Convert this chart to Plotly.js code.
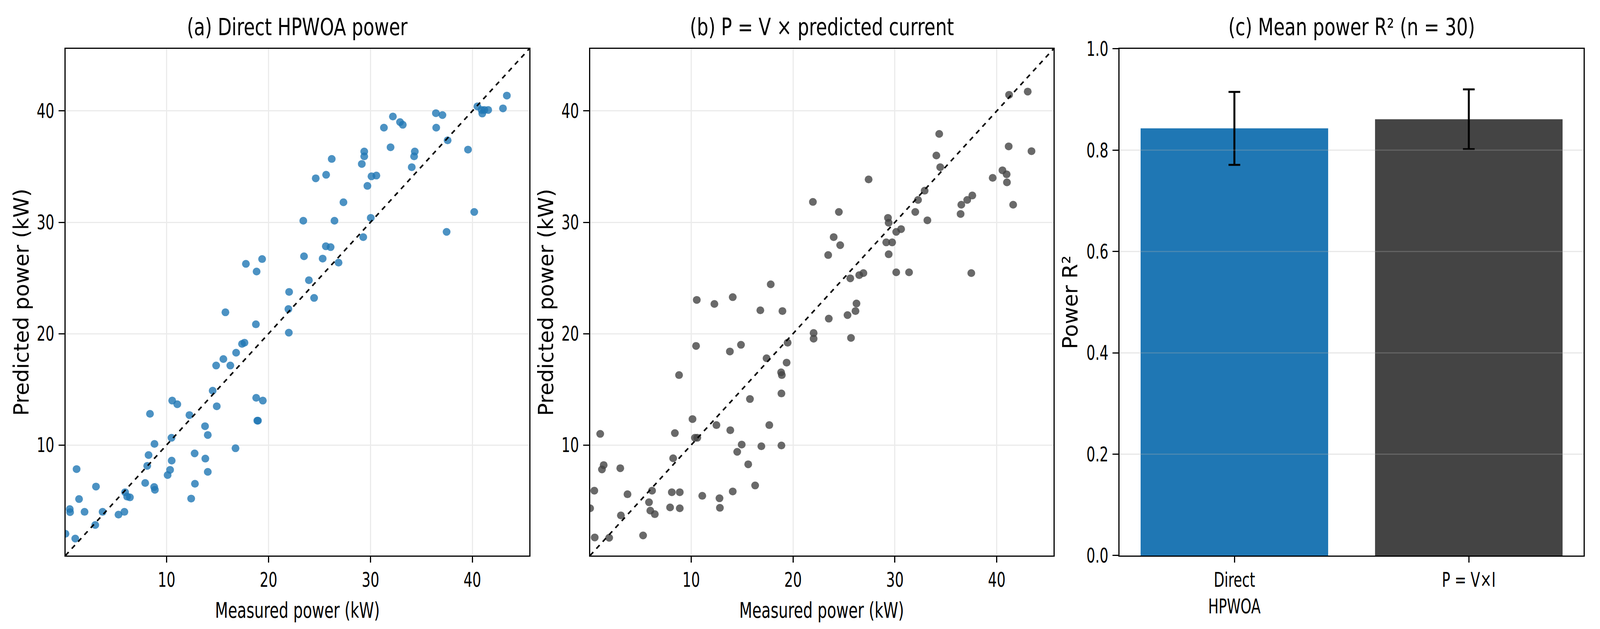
<!DOCTYPE html>
<html>
<head>
<meta charset="utf-8">
<script src="https://cdn.plot.ly/plotly-3.0.1.min.js"></script>
<style>
  html, body { margin: 0; padding: 0; background: #fff; overflow: hidden; }
  #chart { width: 100vw; height: 100vh; }
</style>
</head>
<body>
<div id="chart"></div>
<script>
// panel (a): measured vs direct HPWOA power
const measuredA = [0.08, 0.5, 0.53, 1.04, 1.17, 1.41, 1.95, 3.0, 3.07, 3.72,
  5.28, 5.86, 5.93, 6.13, 6.4, 7.9, 8.1, 8.23, 8.37, 8.78,
  8.81, 8.85, 10.1, 10.34, 10.48, 10.5, 10.55, 11.05, 12.24, 12.41,
  12.75, 12.78, 13.77, 13.8, 14.04, 14.04, 14.52, 14.86, 14.92, 15.57,
  15.77, 16.25, 16.76, 16.82, 17.4, 17.64, 17.78, 18.76, 18.79, 18.83,
  18.9, 18.96, 19.37, 19.44, 21.95, 21.99, 22.02, 23.41, 23.48, 23.96,
  24.47, 24.63, 25.31, 25.62, 25.65, 26.09, 26.2, 26.47, 26.87, 27.35,
  29.15, 29.29, 29.39, 29.39, 29.7, 30.03, 30.1, 30.58, 31.32, 31.97,
  32.2, 32.9, 33.17, 34.05, 34.28, 34.35, 36.42, 36.45, 37.06, 37.47,
  37.57, 39.57, 40.18, 40.49, 40.9, 40.97, 41.17, 41.55, 43.0, 43.38];
const predictedA = [2.03, 4.25, 3.97, 1.6, 7.84, 5.15, 4.0, 2.82, 6.27, 4.0,
  3.75, 4.0, 5.76, 5.37, 5.3, 6.59, 8.13, 9.1, 12.8, 6.23,
  10.1, 5.98, 7.3, 7.77, 10.65, 8.6, 13.99, 13.66, 12.69, 5.19,
  9.25, 6.52, 11.69, 8.78, 10.9, 7.59, 14.88, 17.14, 13.48, 17.72,
  21.92, 17.14, 9.71, 18.29, 19.08, 19.19, 26.27, 20.84, 14.24, 25.58,
  12.19, 12.19, 26.7, 13.99, 22.21, 20.09, 23.75, 30.14, 26.95, 24.8,
  23.21, 33.95, 26.74, 27.85, 34.27, 27.77, 35.69, 30.14, 26.38, 31.8,
  35.24, 28.67, 35.92, 36.36, 33.27, 30.4, 34.13, 34.2, 38.5, 36.74,
  39.5, 39.0, 38.76, 34.95, 35.92, 36.36, 39.8, 38.5, 39.63, 29.14,
  37.36, 36.53, 30.93, 40.41, 40.09, 39.77, 40.09, 40.09, 40.23, 41.38];

// panel (b): measured vs P = V x predicted current
const measuredB = [0.08, 0.49, 0.53, 1.07, 1.24, 1.41, 1.95, 3.04, 3.1, 3.75,
  5.28, 5.86, 5.99, 6.16, 6.43, 7.93, 8.1, 8.23, 8.4, 8.81,
  8.88, 8.88, 10.13, 10.37, 10.48, 10.55, 10.6, 11.09, 12.28, 12.48,
  12.78, 12.82, 13.8, 13.84, 14.08, 14.08, 14.52, 14.89, 14.96, 15.6,
  15.77, 16.28, 16.79, 16.89, 17.4, 17.67, 17.81, 18.83, 18.86, 18.86,
  18.9, 18.96, 19.37, 19.47, 22.02, 22.02, 21.95, 23.45, 23.51, 23.99,
  24.5, 24.63, 25.35, 25.62, 25.69, 26.13, 26.23, 26.5, 26.91, 27.42,
  29.15, 29.32, 29.39, 29.39, 29.73, 30.13, 30.13, 30.61, 31.39, 32.0,
  32.27, 32.92, 33.19, 34.07, 34.35, 34.45, 36.45, 36.52, 37.1, 37.5,
  37.6, 39.6, 40.56, 40.97, 41.0, 41.17, 41.21, 41.61, 43.04, 43.41];
const predictedB = [4.32, 5.9, 1.7, 11.0, 7.81, 8.2, 1.67, 7.92, 3.68, 5.58,
  1.88, 4.86, 4.11, 5.9, 3.79, 4.4, 5.76, 8.81, 11.07, 16.28,
  5.76, 4.32, 12.33, 10.65, 18.9, 23.03, 10.65, 5.44, 22.67, 11.79,
  5.22, 4.36, 18.4, 11.33, 23.28, 5.83, 9.39, 19.0, 10.04, 8.27,
  14.13, 6.37, 22.1, 9.89, 17.79, 11.79, 24.43, 16.53, 14.63, 9.96,
  16.28, 22.03, 17.4, 19.19, 20.06, 19.55, 31.83, 27.06, 21.35, 28.67,
  30.93, 27.95, 21.67, 24.97, 19.62, 22.03, 22.71, 25.26, 25.44, 33.85,
  28.2, 30.4, 27.13, 29.96, 28.2, 29.14, 25.51, 29.39, 25.51, 30.93,
  32.01, 32.84, 30.18, 36.0, 37.94, 34.95, 30.75, 31.58, 32.01, 25.44,
  32.41, 33.99, 34.67, 34.31, 33.59, 36.82, 41.45, 31.58, 41.74, 36.39];

// panel (c): mean power R² over 30 runs
const methods = ['Direct<br>HPWOA', 'P = V×I'];
const meanR2 = [0.843, 0.861];
const stdR2 = [0.072, 0.059];
const r2Ticks = [0, 0.2, 0.4, 0.6, 0.8, 1.0];
const powerTicks = [10, 20, 30, 40];

const allVals = measuredA.concat(predictedA, measuredB, predictedB);
const lo = Math.min(...allVals) * 0.95;
const hi = Math.max(...allVals) * 1.05;

const W = window.innerWidth, H = window.innerHeight;
const font = 'DejaVu Sans, sans-serif';

function scatterAxis(domain, anchor) {
    return {
        domain: domain,
        anchor: anchor,
        range: [lo, hi],
        tickvals: powerTicks,
        showgrid: true,
        gridcolor: '#ebebeb',
        gridwidth: 3,
        zeroline: false,
        showline: true,
        mirror: true,
        linecolor: '#000',
        linewidth: 3,
        ticks: 'outside',
        ticklen: 15,
        tickwidth: 3,
        tickcolor: '#000',
        tickfont: {family: font, size: 52, color: '#000'}
    };
}

var traceA = {
    x: measuredA, y: predictedA,
    xaxis: 'x', yaxis: 'y',
    mode: 'markers', type: 'scatter',
    marker: {color: '#1f77b4', size: 20, opacity: 0.8}
};
var lineA = {
    x: [lo, hi], y: [lo, hi],
    xaxis: 'x', yaxis: 'y',
    mode: 'lines', type: 'scatter',
    line: {color: '#000', width: 4, dash: 'dash'}
};
var traceB = {
    x: measuredB, y: predictedB,
    xaxis: 'x2', yaxis: 'y2',
    mode: 'markers', type: 'scatter',
    marker: {color: '#444444', size: 20, opacity: 0.8}
};
var lineB = {
    x: [lo, hi], y: [lo, hi],
    xaxis: 'x2', yaxis: 'y2',
    mode: 'lines', type: 'scatter',
    line: {color: '#000', width: 4, dash: 'dash'}
};
var bars = {
    x: methods, y: meanR2,
    xaxis: 'x3', yaxis: 'y3',
    type: 'bar', width: 0.8,
    marker: {color: ['#1f77b4', '#444444']},
    error_y: {type: 'data', array: stdR2, visible: true, color: '#000', thickness: 5, width: 15}
};

const plotTop = 0.9224, plotBottom = 0.1168;
const domA = [0.0409, 0.3308], domB = [0.3688, 0.6585], domC = [0.6997, 0.9898];
const mid = d => (d[0] + d[1]) / 2;

// matplotlib draws the grid over the bars, so the R² grid is a set of shapes
var gridShapes = r2Ticks.slice(1, -1).map(v => ({
    type: 'line', layer: 'above',
    xref: 'x3 domain', x0: 0, x1: 1,
    yref: 'y3', y0: v, y1: v,
    line: {color: 'rgba(176,176,176,0.3)', width: 3}
}));

function label(text, x, y, size, angle) {
    return {
        text: text, showarrow: false,
        xref: 'paper', yref: 'paper', x: x, y: y,
        xanchor: 'center', yanchor: 'middle',
        textangle: angle || 0,
        font: {family: font, size: size, color: '#000'}
    };
}

const yMid = (plotTop + plotBottom) / 2;

var layout = {
    width: W, height: H,
    margin: {l: 0, r: 0, t: 0, b: 0},
    paper_bgcolor: '#fff', plot_bgcolor: '#fff',
    showlegend: false,
    xaxis: scatterAxis(domA, 'y'),
    yaxis: scatterAxis([plotBottom, plotTop], 'x'),
    xaxis2: scatterAxis(domB, 'y2'),
    yaxis2: scatterAxis([plotBottom, plotTop], 'x2'),
    xaxis3: {
        domain: domC, anchor: 'y3',
        range: [-0.49, 1.49],
        showgrid: false, zeroline: false,
        showline: true, mirror: true, linecolor: '#000', linewidth: 3,
        ticks: 'outside', ticklen: 15, tickwidth: 3, tickcolor: '#000',
        tickfont: {family: font, size: 52, color: '#000'}
    },
    yaxis3: {
        domain: [plotBottom, plotTop], anchor: 'x3',
        range: [0, 1],
        tickvals: r2Ticks,
        tickformat: '.1f',
        showgrid: false, zeroline: false,
        showline: true, mirror: true, linecolor: '#000', linewidth: 3,
        ticks: 'outside', ticklen: 15, tickwidth: 3, tickcolor: '#000',
        tickfont: {family: font, size: 52, color: '#000'}
    },
    shapes: gridShapes,
    annotations: [
        label('(a) Direct HPWOA power', mid(domA), 0.957, 60),
        label('(b) P = V × predicted current', mid(domB), 0.957, 60),
        label('(c) Mean power R² (n = 30)', mid(domC), 0.957, 60),
        label('Measured power (kW)', mid(domA), 0.030, 55),
        label('Measured power (kW)', mid(domB), 0.030, 55),
        label('Predicted power (kW)', 0.0134, yMid, 54, -90),
        label('Predicted power (kW)', 0.3411, yMid, 54, -90),
        label('Power R²', 0.6687, yMid, 54, -90)
    ]
};

// the reference text is squeezed sideways; narrow each horizontal label about its anchor
function squeeze(el, s) {
    const b = el.getBBox();
    const anchor = el.getAttribute('text-anchor') || 'middle';
    const cx = anchor === 'end' ? b.x + b.width : anchor === 'start' ? b.x : b.x + b.width / 2;
    const t = el.getAttribute('transform') || '';
    el.setAttribute('transform', t + ' translate(' + cx + ',0) scale(' + s + ',1) translate(' + (-cx) + ',0)');
}

Plotly.newPlot('chart', [traceA, lineA, traceB, lineB, bars], layout, {staticPlot: true}).then(gd => {
    gd.querySelectorAll('.xaxislayer-above text, .yaxislayer-above text').forEach(el => squeeze(el, 0.68));
    gd.querySelectorAll('.annotation').forEach(a => {
        const txt = a.querySelector('text.annotation-text');
        if (!txt) return;
        const g = a.querySelector('.annotation-text-g');
        const m = /rotate\(\s*(-?[\d.]+)/.exec((g && g.getAttribute('transform')) || '');
        if (m && Math.abs(parseFloat(m[1])) > 1) return;
        const size = parseFloat(txt.style.fontSize);
        squeeze(txt, size >= 58 ? 0.77 : 0.70);
    });
});
</script>
</body>
</html>
